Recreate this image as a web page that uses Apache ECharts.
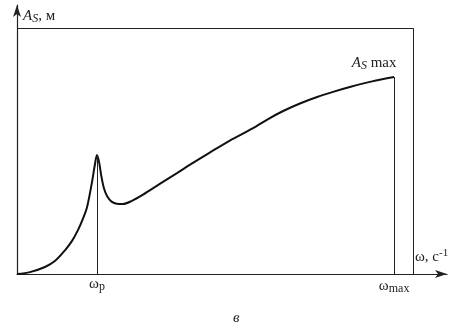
<!DOCTYPE html>
<html><head><meta charset="utf-8">
<script src="https://cdn.jsdelivr.net/npm/echarts@6/dist/echarts.min.js"></script>
<style>html,body{margin:0;padding:0;background:#fff}#c{width:461px;height:324px}</style>
</head><body><div id="c"></div>
<script>
// Angular frequency ω (arbitrary units, 0..100 along the x axis)
const omega = [0, 3.0, 6.5, 8.8, 11.2, 12.8, 14.2, 15.3, 16.3, 17.4, 18.1, 18.6, 19.1, 19.6, 20.2, 21.0, 22.0, 23.2, 24.6, 26.6, 29.3, 33.3, 37.2, 40.9, 44.9, 49.5, 54.9, 58.4, 61.9, 65.8, 69.8, 73.5, 77.4, 82.6, 87.7];
// Amplitude A_S (arbitrary units, 0..100 along the y axis)
const amplitude = [0, 0.7, 2.6, 4.8, 8.9, 12.3, 16.4, 20.4, 24.9, 33.8, 40.5, 44.2, 41.5, 36.5, 32.0, 28.8, 26.9, 26.1, 26.0, 27.1, 29.5, 33.6, 37.5, 41.3, 45.2, 49.6, 54.2, 57.6, 60.6, 63.4, 65.8, 67.7, 69.5, 71.6, 73.2];
const omegaP = 18.6, peakA = 44.2;
const omegaMax = 87.7, ampMax = 73.2;
const boxRight = 92.1, boxTop = 91.4;
const xMax = 100, yMax = 100;

const F = '"Liberation Serif", "DejaVu Serif", serif';
const ink = '#222';
const rich = {
  i: {fontFamily: F, fontSize: 15, fontStyle: 'italic', color: ink},
  si: {fontFamily: F, fontSize: 12, fontStyle: 'italic', color: ink, padding: [6, 0, 0, 0]},
  n: {fontFamily: F, fontSize: 15, color: ink},
  sub: {fontFamily: F, fontSize: 12, color: ink, padding: [6, 0, 0, 0]},
  sup: {fontFamily: F, fontSize: 11, color: ink, padding: [0, 0, 7, 0]}
};

const chart = echarts.init(document.getElementById('c'));
chart.setOption({
  animation: false,
  grid: {left: 17, right: 14, top: 5, bottom: 50},
  title: {text: 'в', left: 228, top: 306, textStyle: {fontFamily: F, fontSize: 15, fontStyle: 'italic', fontWeight: 'normal', color: ink}},
  xAxis: {
    type: 'value', min: 0, max: xMax,
    axisLine: {show: true, symbol: ['none', 'arrow'], symbolSize: [6, 12], lineStyle: {color: ink, width: 1.2}},
    axisTick: {show: false}, axisLabel: {show: false}, splitLine: {show: false},
    name: '{n|ω, c}{sup|-1}', nameLocation: 'end', nameGap: -32,
    nameTextStyle: {rich: rich, verticalAlign: 'bottom', padding: [0, 0, 8, 0]}
  },
  yAxis: {
    type: 'value', min: 0, max: yMax,
    axisLine: {show: true, symbol: ['none', 'arrow'], symbolSize: [6, 12], lineStyle: {color: ink, width: 1.2}},
    axisTick: {show: false}, axisLabel: {show: false}, splitLine: {show: false},
    name: '{i|A}{si|S}{n|, м}', nameLocation: 'end', nameGap: -20,
    nameTextStyle: {rich: rich, align: 'left', padding: [0, 0, 0, 6]}
  },
  series: [{
    type: 'line',
    data: omega.map((w, i) => [w, amplitude[i]]),
    smooth: 0.3, symbol: 'none',
    lineStyle: {color: '#111', width: 2},
    markLine: {
      silent: true, symbol: 'none', animation: false,
      lineStyle: {color: ink, width: 1, type: 'solid'},
      data: [
        [{coord: [omegaP, 0], label: {show: true, position: 'start', distance: 1, formatter: '{n|ω}{sub|p}', rich: rich}}, {coord: [omegaP, peakA]}],
        [{coord: [omegaMax, 0], label: {show: true, position: 'start', distance: 3, formatter: '{n|ω}{sub|max}', rich: rich}}, {coord: [omegaMax, ampMax], label: {show: false}}],
        [{coord: [omegaMax, ampMax], label: {show: true, position: 'end', formatter: '{i|A}{si|S}{n| max}', rich: rich, offset: [-20, 0]}}, {coord: [omegaMax, ampMax + 0.01]}],
        [{coord: [0, boxTop], label: {show: false}}, {coord: [boxRight, boxTop]}],
        [{coord: [boxRight, 0], label: {show: false}}, {coord: [boxRight, boxTop]}]
      ]
    }
  }]
});
</script></body></html>
